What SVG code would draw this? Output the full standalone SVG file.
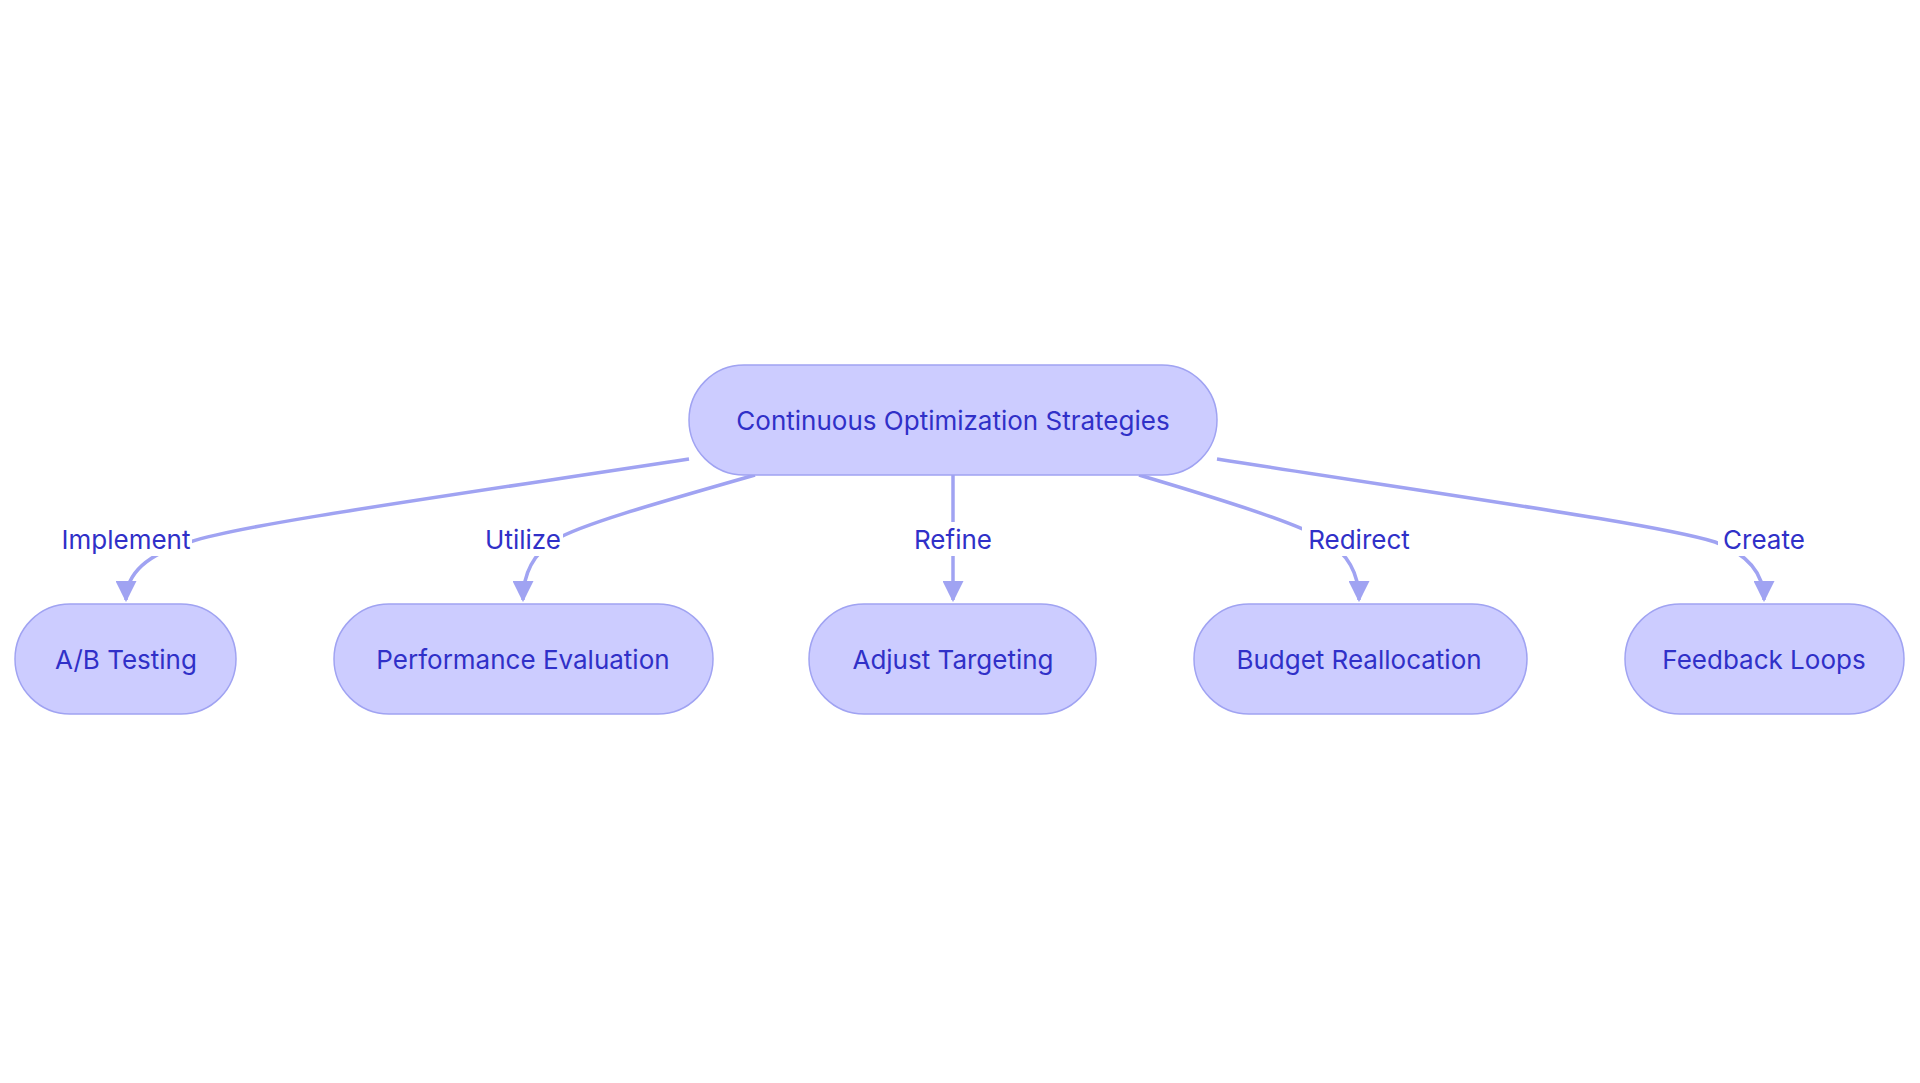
<svg xmlns="http://www.w3.org/2000/svg" width="1920" height="1083" viewBox="0 0 1920 1083">
<style>
.n rect{fill:#ccccff;stroke:#a0a3f2;stroke-width:1.5}
text{font-family:Inter,"Liberation Sans",sans-serif;font-size:26px;fill:#3030c8;text-anchor:middle;dominant-baseline:central}
.e path{fill:none;stroke:#a0a3f2;stroke-width:3.5}
.lb{fill:#fff}
</style>
<defs><marker id="a" viewBox="0 0 10 10" refX="9" refY="5" markerWidth="7" markerHeight="7" markerUnits="userSpaceOnUse" orient="auto"><path d="M0,0L10,5L0,10z" fill="#a0a3f2"/></marker>
<marker id="m" viewBox="0 0 10 10" refX="9" refY="5" markerWidth="6" markerHeight="6" orient="auto"><path d="M0,0L10,5L0,10z" fill="#a0a3f2"/></marker></defs>
<rect width="1920" height="1083" fill="#fff"/>
<g class="e">
<path d="M689,459 C420,500 240,525 190,542 Q126,560 126,600" marker-end="url(#m)"/>
<path d="M755,475 C650,505 580,525 555,540 Q523,560 523,600" marker-end="url(#m)"/>
<path d="M953,475 L953,600" marker-end="url(#m)"/>
<path d="M1139,475 C1240,505 1300,525 1325,540 Q1359,560 1359,600" marker-end="url(#m)"/>
<path d="M1217,459 C1480,500 1660,525 1715,542 Q1764,560 1764,600" marker-end="url(#m)"/>
</g>
<g id="labels">
<rect class="lb" x="60" y="522" width="132" height="34"/><text x="126" y="539">Implement</text>
<rect class="lb" x="483" y="522" width="80" height="34"/><text x="523" y="539">Utilize</text>
<rect class="lb" x="910" y="522" width="86" height="34"/><text x="953" y="539">Refine</text>
<rect class="lb" x="1302" y="522" width="114" height="34"/><text x="1359" y="539">Redirect</text>
<rect class="lb" x="1718" y="522" width="92" height="34"/><text x="1764" y="539">Create</text>
</g>
<g id="root" class="n"><rect x="689" y="365" width="528" height="110" rx="55"/><text x="953" y="420">Continuous Optimization Strategies</text></g>
<g id="ab" class="n"><rect x="15" y="604" width="221" height="110" rx="55"/><text x="126" y="659">A/B Testing</text></g>
<g id="perf" class="n"><rect x="334" y="604" width="379" height="110" rx="55"/><text x="523" y="659">Performance Evaluation</text></g>
<g id="adj" class="n"><rect x="809" y="604" width="287" height="110" rx="55"/><text x="953" y="659">Adjust Targeting</text></g>
<g id="bud" class="n"><rect x="1194" y="604" width="333" height="110" rx="55"/><text x="1359" y="659">Budget Reallocation</text></g>
<g id="fb" class="n"><rect x="1625" y="604" width="279" height="110" rx="55"/><text x="1764" y="659">Feedback Loops</text></g>
</svg>
